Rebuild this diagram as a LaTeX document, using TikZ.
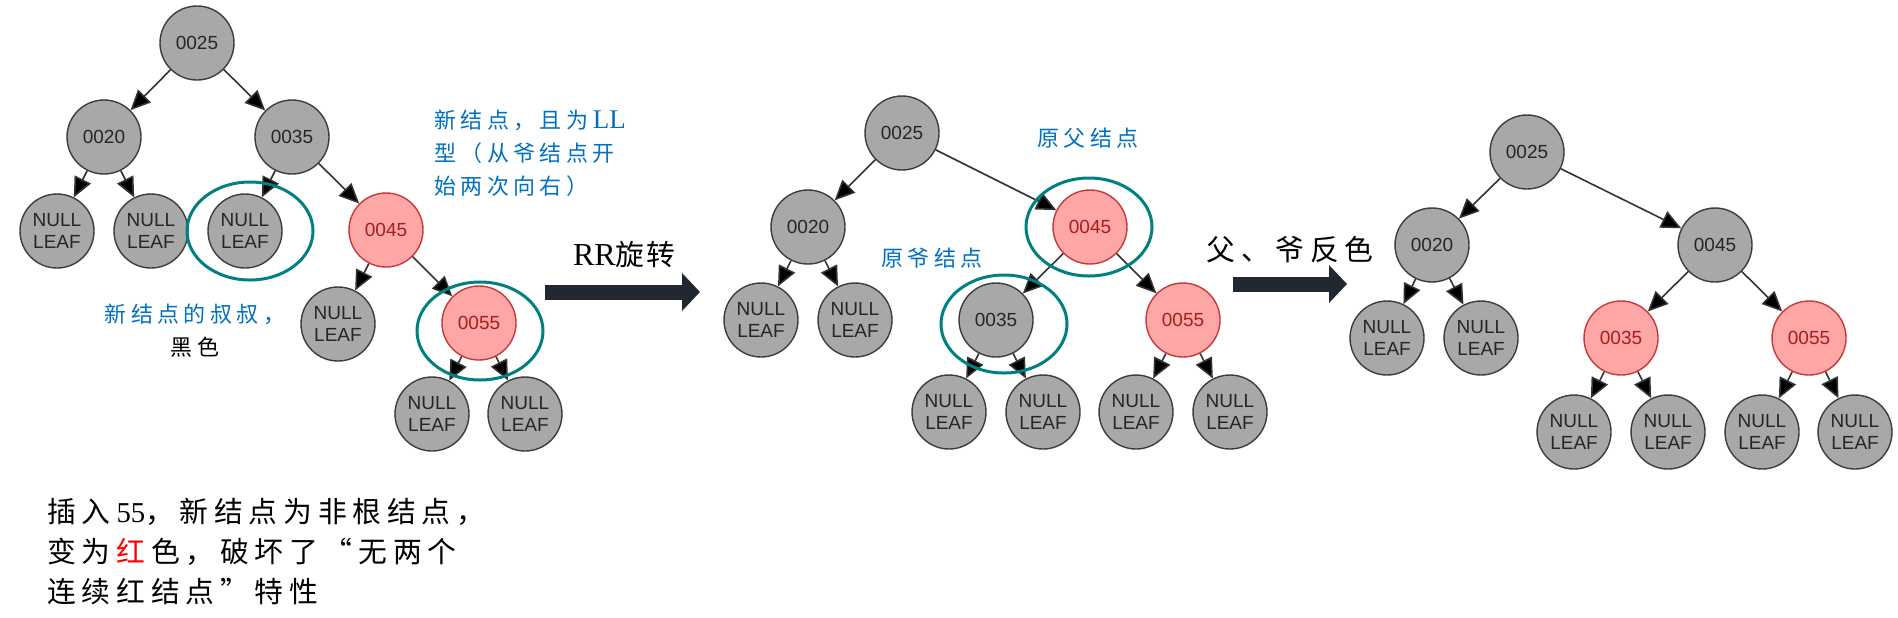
\documentclass[tikz,border=0pt]{standalone}
\usepackage{fontspec}
\setmainfont{Liberation Serif}
\newfontfamily\cjk[LetterSpace=20]{Noto Sans CJK SC}
\newfontfamily\cjktight[LetterSpace=6]{Noto Sans CJK SC}
\newfontfamily\numfont{Liberation Sans}
\usetikzlibrary{arrows.meta,shapes.geometric}
\definecolor{nodegray}{RGB}{168,168,168}
\definecolor{nodeline}{RGB}{60,60,60}
\definecolor{redfill}{RGB}{255,166,166}
\definecolor{redline}{RGB}{200,56,56}
\definecolor{redtext}{RGB}{165,30,30}
\definecolor{ringteal}{RGB}{0,128,128}
\definecolor{noteblue}{RGB}{0,112,192}
\definecolor{arrowdark}{RGB}{34,40,49}
\newcommand{\gap}{\hspace{0.2em}}

\begin{document}
\begin{tikzpicture}[x=0.5pt,y=-0.5pt,
  blk/.style={circle,draw=nodeline,fill=nodegray,line width=0.7pt,minimum size=37pt,inner sep=0pt,
    text=black!85,font=\numfont\fontsize{9.5}{11}\selectfont,align=center},
  redn/.style={blk,draw=redline,fill=redfill,text=redtext},
  edge/.style={draw=black!80,line width=0.8pt,-{Triangle[length=10pt,width=9pt,fill=black]}},
  ring/.style={ellipse,draw=ringteal,line width=1.5pt,minimum width=63pt,minimum height=49pt,inner sep=0pt},
  note/.style={text=noteblue,font=\cjk\fontsize{11}{16.5}\selectfont,inner sep=0pt},
  bignote/.style={font=\cjk\fontsize{14.4}{20}\selectfont,inner sep=0pt},
  bigarrow/.style={draw=arrowdark,line width=7.5pt,-{Triangle[length=9pt,width=18.5pt]}}]

\useasboundingbox (0,0) rectangle (1898,617);

% first tree: 55 inserted
\node[blk] (a25) at (197,43) {0025};
\node[blk] (a20) at (104,137) {0020};
\node[blk] (a35) at (292,137) {0035};
\node[blk] (a20l) at (57,231) {NULL\\LEAF};
\node[blk] (a20r) at (151,231) {NULL\\LEAF};
\node[blk] (a35l) at (245,231) {NULL\\LEAF};
\node[redn] (a45) at (386,230) {0045};
\node[blk] (a45l) at (338,324) {NULL\\LEAF};
\node[redn] (a55) at (479,323) {0055};
\node[blk] (a55l) at (432,414) {NULL\\LEAF};
\node[blk] (a55r) at (525,414) {NULL\\LEAF};

\draw[edge] (a25) -- (a20);
\draw[edge] (a25) -- (a35);
\draw[edge] (a20) -- (a20l);
\draw[edge] (a20) -- (a20r);
\draw[edge] (a35) -- (a35l);
\draw[edge] (a35) -- (a45);
\draw[edge] (a45) -- (a45l);
\draw[edge] (a45) -- (a55);
\draw[edge] (a55) -- (a55l);
\draw[edge] (a55) -- (a55r);

\node[ring] (ring1) at (250,231) {};
\node[ring] (ring2) at (480,331) {};

\node[note,align=center] (uncle) at (195,331) {新结点的叔叔，\\\textcolor{black}{黑色}};
\node[note,align=left,anchor=west] (lltype) at (434,153) {新结点，且为\gap{\rmfamily\fontsize{13.5}{16.5}\selectfont LL}\\型（从爷结点开\\始两次向右）};
\node[bignote,align=left,anchor=west] (insert) at (47,552) {插入\gap{\rmfamily 55}，新结点为非根结点，\\变为\gap\textcolor{red}{红}\gap 色，破坏了“无两个\\连续红结点”特性};

% rotation arrow
\coordinate (r1) at (545,292);
\coordinate (r2) at (700,292);
\draw[bigarrow] (r1) -- (r2);
\node[font=\cjktight\fontsize{14.4}{20}\selectfont,inner sep=0pt] (rrlabel) at (624,255) {{\rmfamily\fontsize{16}{20}\selectfont RR}旋转};

% second tree: after rotation
\node[blk] (b25) at (902,133) {0025};
\node[blk] (b20) at (808,227) {0020};
\node[redn] (b45) at (1090,227) {0045};
\node[blk] (b20l) at (761,320) {NULL\\LEAF};
\node[blk] (b20r) at (855,320) {NULL\\LEAF};
\node[blk] (b35) at (996,320) {0035};
\node[redn] (b55) at (1183,320) {0055};
\node[blk] (b35l) at (949,412) {NULL\\LEAF};
\node[blk] (b35r) at (1043,412) {NULL\\LEAF};
\node[blk] (b55l) at (1136,412) {NULL\\LEAF};
\node[blk] (b55r) at (1230,412) {NULL\\LEAF};

\draw[edge] (b25) -- (b20);
\draw[edge] (b25) -- (b45);
\draw[edge] (b20) -- (b20l);
\draw[edge] (b20) -- (b20r);
\draw[edge] (b45) -- (b35);
\draw[edge] (b45) -- (b55);
\draw[edge] (b35) -- (b35l);
\draw[edge] (b35) -- (b35r);
\draw[edge] (b55) -- (b55l);
\draw[edge] (b55) -- (b55r);

\node[ring] (ring3) at (1089,227) {};
\node[ring] (ring4) at (1004,324) {};
\node[note] (oldparent) at (1088,138) {原父结点};
\node[note] (oldgrand) at (932,258) {原爷结点};

% recolour arrow
\coordinate (s1) at (1233,284);
\coordinate (s2) at (1347,284);
\draw[bigarrow] (s1) -- (s2);
\node[bignote] (recolour) at (1290,250) {父、爷反色};

% third tree: recoloured
\node[blk] (c25) at (1527,152) {0025};
\node[blk] (c20) at (1432,245) {0020};
\node[blk] (c45) at (1715,245) {0045};
\node[blk] (c20l) at (1387,338) {NULL\\LEAF};
\node[blk] (c20r) at (1481,338) {NULL\\LEAF};
\node[redn] (c35) at (1621,338) {0035};
\node[redn] (c55) at (1809,338) {0055};
\node[blk] (c35l) at (1574,432) {NULL\\LEAF};
\node[blk] (c35r) at (1668,432) {NULL\\LEAF};
\node[blk] (c55l) at (1762,432) {NULL\\LEAF};
\node[blk] (c55r) at (1855,432) {NULL\\LEAF};

\draw[edge] (c25) -- (c20);
\draw[edge] (c25) -- (c45);
\draw[edge] (c20) -- (c20l);
\draw[edge] (c20) -- (c20r);
\draw[edge] (c45) -- (c35);
\draw[edge] (c45) -- (c55);
\draw[edge] (c35) -- (c35l);
\draw[edge] (c35) -- (c35r);
\draw[edge] (c55) -- (c55l);
\draw[edge] (c55) -- (c55r);

\end{tikzpicture}
\end{document}
